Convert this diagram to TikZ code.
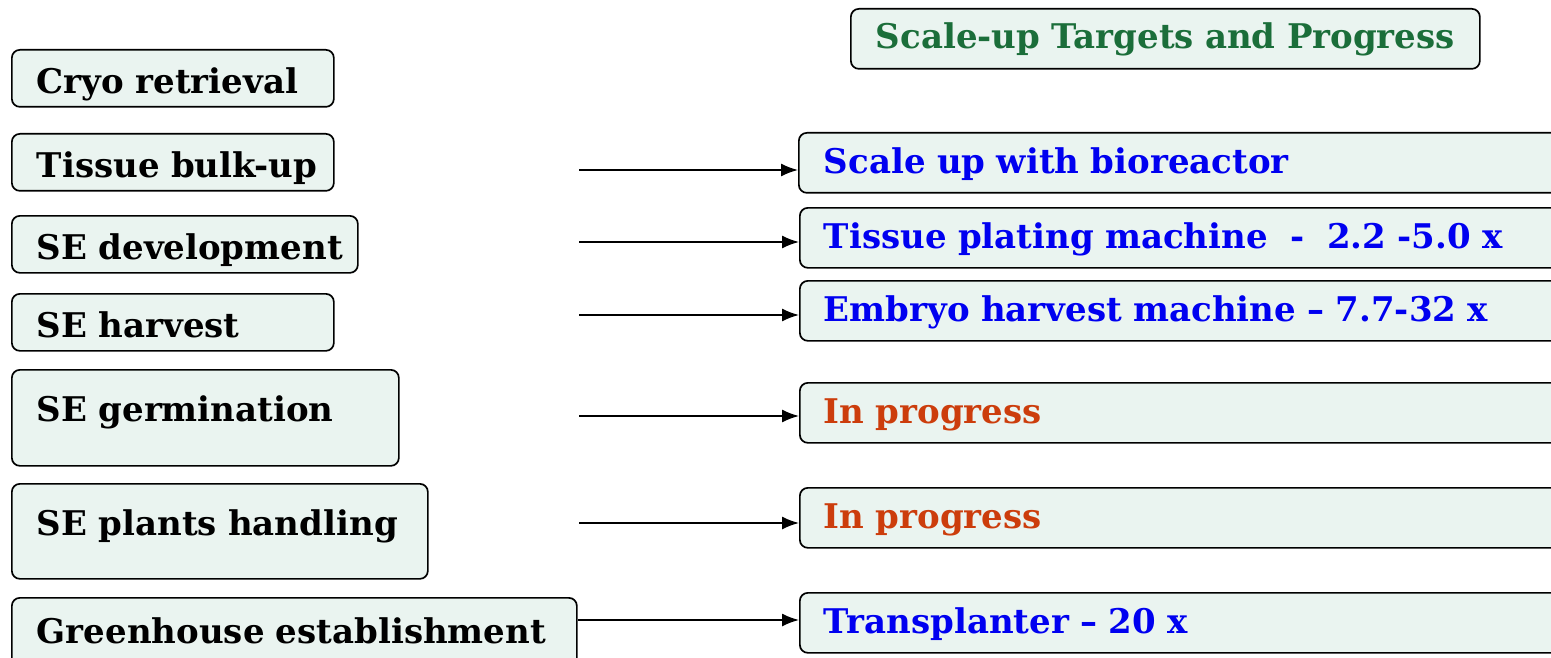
\documentclass[tikz,border=0pt]{standalone}
\usepackage{fontspec}
\setmainfont{DejaVu Serif}
\usetikzlibrary{arrows.meta}
\definecolor{boxfill}{HTML}{EAF4F0}
\definecolor{blueT}{HTML}{0000F0}
\definecolor{orangeT}{HTML}{CC3D0C}
\definecolor{greenT}{HTML}{1B6E3A}
\begin{document}
\begin{tikzpicture}[x=1pt,y=-1pt,
  box/.style={draw=black, line width=1.7pt, rounded corners=8pt, fill=boxfill,
    anchor=north west, inner xsep=0pt, inner ysep=0pt, align=left,
    text height=30pt, text depth=8pt,
    font=\fontsize{34}{38}\selectfont\bfseries},
  lbox/.style={box, text=black, text depth=0pt},
  rbox/.style={box, text=blueT, minimum width=780pt, minimum height=60pt, text width=780pt},
  arr/.style={-{Latex[length=17pt,width=13pt]}, line width=1.7pt}]
\useasboundingbox (0,0) rectangle (1551,658);
% title
\node[box, text=greenT, minimum width=629pt, minimum height=60pt, align=center, text width=629pt, text depth=10pt] (title) at (850,8) {Scale-up Targets and Progress};
% left boxes
\node[lbox, minimum width=322pt, minimum height=57pt, text width=322pt] (cryo) at (11,49) {\hspace*{25pt}Cryo retrieval};
\node[lbox, minimum width=322pt, minimum height=57pt, text width=322pt] (bulk) at (11,133) {\hspace*{25pt}Tissue bulk-up};
\node[lbox, minimum width=346pt, minimum height=57pt, text width=346pt] (dev) at (11,215) {\hspace*{25pt}SE development};
\node[lbox, minimum width=322pt, minimum height=57pt, text width=322pt] (harv) at (11,293) {\hspace*{25pt}SE harvest};
\node[lbox, minimum width=387pt, minimum height=96pt, text width=387pt, text depth=22pt] (germ) at (11,369) {\hspace*{25pt}SE germination};
\node[lbox, minimum width=416pt, minimum height=95pt, text width=416pt, text depth=21pt] (hand) at (11,483) {\hspace*{25pt}SE plants handling};
\node[lbox, minimum width=565pt, minimum height=70pt, text width=565pt, text depth=8pt] (green) at (11,597) {\hspace*{25pt}Greenhouse establishment};
% right boxes
\node[rbox] (r1) at (798,132) {\hspace*{25pt}Scale up with bioreactor};
\node[rbox] (r2) at (799,207) {\hspace*{24pt}Tissue plating machine\ \ -\ \ 2.2 -5.0 x};
\node[rbox] (r3) at (799,280) {\hspace*{24pt}Embryo harvest machine – 7.7-32 x};
\node[rbox, text=orangeT] (r4) at (799,382) {\hspace*{24pt}In progress};
\node[rbox, text=orangeT] (r5) at (799,487) {\hspace*{24pt}In progress};
\node[rbox] (r6) at (799,592) {\hspace*{24pt}Transplanter – 20 x};
% arrow start points
\coordinate (a1) at (579,170);
\coordinate (a2) at (579,242);
\coordinate (a3) at (579,315);
\coordinate (a4) at (579,416);
\coordinate (a5) at (579,523);
\draw[arr] (a1) -- (a1 -| r1.west);
\draw[arr] (a2) -- (a2 -| r2.west);
\draw[arr] (a3) -- (a3 -| r3.west);
\draw[arr] (a4) -- (a4 -| r4.west);
\draw[arr] (a5) -- (a5 -| r5.west);
\draw[arr] (green.east |- 0,620) -- (r6.west |- 0,620);
\end{tikzpicture}
\end{document}
